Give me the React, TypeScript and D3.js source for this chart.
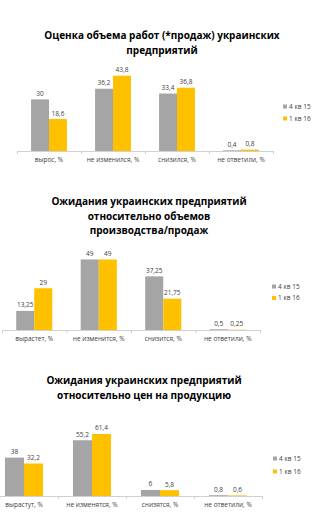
import React from "react";
import * as d3 from "d3";

const series = ["4 кв 15", "1 кв 16"];
const colors = ["#a5a5a5", "#ffc000"];

// Оценка объема работ
const salesTitle = ["Оценка объема работ (*продаж) украинских", "предприятий"];
const salesCats = ["вырос, %", "не изменился, %", "снизился, %", "не ответили, %"];
const salesQ4 = [30, 36.2, 33.4, 0.4];
const salesQ1 = [18.6, 43.8, 36.8, 0.8];

// Ожидания по объемам
const volTitle = ["Ожидания украинских предприятий", "относительно объемов", "производства/продаж"];
const volCats = ["вырастет, %", "не изменится, %", "снизится, %", "не ответили, %"];
const volQ4 = [13.25, 49, 37.25, 0.5];
const volQ1 = [29, 49, 21.75, 0.25];

// Ожидания по ценам
const priceTitle = ["Ожидания украинских предприятий", "относительно цен на продукцию"];
const priceCats = ["вырастут, %", "не изменятся, %", "снизятся, %", "не ответили, %"];
const priceQ4 = [38, 55.2, 6, 0.8];
const priceQ1 = [32.2, 61.4, 5.8, 0.6];

const fmt = (v: number) => String(v).replace(".", ",");

type ChartProps = {
  top: number;
  title: string[];
  titleX: number;
  cats: string[];
  values: number[][];
  xRange: [number, number];
  base: number;
  yMax: number;
  yPx: number;
  legendX: number;
  legendY: number;
  legendGap: number;
};

const GroupedBars = ({ top, title, titleX, cats, values, xRange, base, yMax, yPx, legendX, legendY, legendGap }: ChartProps) => {
  const x0 = d3.scaleBand<string>().domain(cats).range(xRange).padding(0);
  const bw = x0.bandwidth();
  const x1 = d3.scaleBand<string>().domain(series).range([bw * 0.22, bw * 0.78]).padding(0);
  const y = d3.scaleLinear().domain([0, yMax]).range([base, base - yMax * yPx]);

  return (
    <g>
      {title.map((t, i) => (
        <text key={t} x={titleX} y={top + i * 14.5} textAnchor="middle" fontFamily="Open Sans" fontWeight="bold" fontSize={10} fill="#000">
          {t}
        </text>
      ))}
      {cats.map((c, ci) => (
        <g key={c} transform={`translate(${x0(c)},0)`}>
          {series.map((s, si) => {
            const v = values[si][ci];
            return (
              <g key={s}>
                <rect x={x1(s)} y={y(v)} width={x1.bandwidth()} height={y(0) - y(v)} fill={colors[si]} />
                <text x={(x1(s) as number) + x1.bandwidth() / 2} y={y(v) - 3.5} textAnchor="middle" fontFamily="Open Sans" fontSize={6.5} fill="#404040">
                  {fmt(v)}
                </text>
              </g>
            );
          })}
          <text x={bw / 2} y={base + 11} textAnchor="middle" fontFamily="Open Sans" fontSize={6.5} fill="#404040">
            {c}
          </text>
        </g>
      ))}
      <line x1={xRange[0]} x2={xRange[1]} y1={base + 0.5} y2={base + 0.5} stroke="#d0d0d0" />
      {[...cats.map((c) => x0(c) as number), xRange[1]].map((t, i) => (
        <line key={i} x1={t + 0.5} x2={t + 0.5} y1={base} y2={base + 3} stroke="#d0d0d0" />
      ))}
      {series.map((s, si) => (
        <g key={s} transform={`translate(${legendX},${legendY + si * legendGap})`}>
          <rect x={0} y={-2.5} width={4} height={4} fill={colors[si]} />
          <text x={6} y={1.5} fontFamily="Open Sans" fontSize={6.5} fill="#404040">
            {s}
          </text>
        </g>
      ))}
    </g>
  );
};

export default function App() {
  return (
    <svg width={314} height={526} style={{ position: "absolute", left: 0, top: 0, background: "#fff" }}>
      <rect width={314} height={526} fill="#fff" />
      <GroupedBars
        top={39} title={salesTitle} titleX={162} cats={salesCats} values={[salesQ4, salesQ1]}
        xRange={[17, 273]} base={151} yMax={50} yPx={1.72}
        legendX={283} legendY={107} legendGap={12}
      />
      <GroupedBars
        top={205} title={volTitle} titleX={149} cats={volCats} values={[volQ4, volQ1]}
        xRange={[2, 260]} base={330} yMax={60} yPx={1.44}
        legendX={272} legendY={287} legendGap={11.5}
      />
      <GroupedBars
        top={384} title={priceTitle} titleX={144} cats={priceCats} values={[priceQ4, priceQ1]}
        xRange={[-10, 262]} base={496} yMax={70} yPx={1.01}
        legendX={273} legendY={459} legendGap={13}
      />
    </svg>
  );
}
